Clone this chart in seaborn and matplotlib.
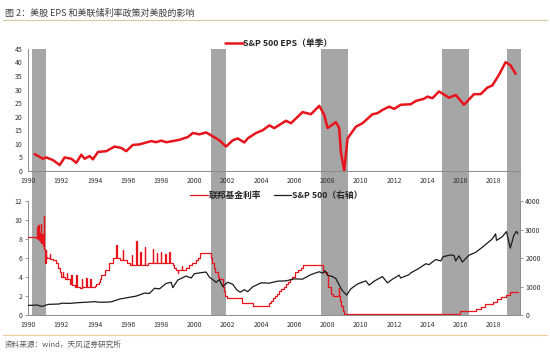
import matplotlib
matplotlib.use("Agg")
import matplotlib.pyplot as plt
from matplotlib.lines import Line2D
import pandas as pd
import seaborn as sns

TITLE = "图 2：美股 EPS 和美联储利率政策对美股的影响"
SOURCE = "资料来源：wind，天风证券研究所"
EPS_LABEL = "S&P 500 EPS（单季）"
FED_LABEL = "联邦基金利率"
SPX_LABEL = "S&P 500（右轴）"

YEAR_TICKS = list(range(1990, 2019, 2))

# grey shaded periods (decimal years)
SHADE_START = [1990.25, 2001.0, 2007.6, 2014.85, 2018.8]
SHADE_END = [1991.1, 2001.9, 2009.2, 2016.5, 2019.6]

# S&P 500 quarterly EPS
EPS_YEAR = [1990.4, 1990.9, 1991.1, 1991.5, 1991.9, 1992.2, 1992.6, 1992.9, 1993.2, 1993.4,
            1993.7, 1993.9, 1994.2, 1994.7, 1995.2, 1995.6, 1995.9, 1996.3, 1996.7, 1997.1,
            1997.4, 1997.7, 1998.0, 1998.3, 1998.7, 1999.1, 1999.6, 1999.9, 2000.3, 2000.7,
            2000.9, 2001.5, 2001.9, 2002.3, 2002.6, 2003.0, 2003.2, 2003.7, 2004.1, 2004.5,
            2004.8, 2005.5, 2005.8, 2006.5, 2007.0, 2007.5, 2007.8, 2008.0, 2008.5, 2008.7,
            2008.8, 2009.0, 2009.2, 2009.7, 2010.1, 2010.7, 2011.0, 2011.3, 2011.7, 2012.0,
            2012.4, 2013.0, 2013.3, 2013.8, 2014.0, 2014.3, 2014.7, 2015.3, 2015.7, 2016.2,
            2016.8, 2017.2, 2017.6, 2017.9, 2018.3, 2018.7, 2019.0, 2019.3]
EPS_VALUE = [6.2, 4.5, 5.0, 4.0, 2.2, 5.0, 4.5, 3.0, 6.0, 4.5,
             5.5, 4.3, 7.0, 7.3, 9.0, 8.5, 7.3, 9.6, 9.8, 10.5,
             11.0, 10.6, 11.2, 10.6, 11.0, 11.5, 12.5, 14.0, 13.5, 14.2,
             13.5, 11.3, 9.0, 11.3, 12.0, 10.5, 12.0, 14.0, 15.0, 16.8,
             15.8, 18.5, 17.6, 21.7, 20.9, 24.0, 20.7, 15.8, 18.0, 15.8,
             7.1, 0.0, 12.0, 16.3, 17.6, 20.9, 21.3, 22.5, 23.7, 22.9,
             24.4, 24.6, 25.8, 26.6, 27.4, 26.8, 29.3, 27.0, 28.0, 24.4,
             28.3, 28.3, 30.7, 31.5, 35.4, 40.1, 38.9, 35.8]

# federal funds rate change points (drawn as steps)
FED_YEAR = [1990.0, 1990.45, 1990.55, 1990.57, 1990.62, 1990.64, 1990.7, 1990.72, 1990.78, 1990.8,
            1990.86, 1990.88, 1990.93, 1990.95, 1991.0, 1991.02, 1991.05, 1991.08, 1991.15, 1991.3,
            1991.32, 1991.5, 1991.7, 1991.8, 1991.9, 1992.0, 1992.1, 1992.12, 1992.25, 1992.35,
            1992.37, 1992.5, 1992.6, 1992.62, 1992.8, 1992.9, 1992.92, 1993.1, 1993.25, 1993.27,
            1993.5, 1993.52, 1993.75, 1993.77, 1994.0, 1994.1, 1994.25, 1994.3, 1994.4, 1994.6,
            1994.85, 1995.1, 1995.3, 1995.32, 1995.5, 1995.7, 1995.72, 1995.95, 1996.1, 1996.25,
            1996.27, 1996.5, 1996.52, 1996.75, 1996.77, 1997.0, 1997.02, 1997.2, 1997.5, 1997.52,
            1997.75, 1997.77, 1998.0, 1998.02, 1998.25, 1998.27, 1998.5, 1998.52, 1998.72, 1998.8,
            1998.9, 1999.0, 1999.02, 1999.25, 1999.27, 1999.5, 1999.65, 1999.85, 2000.1, 2000.2,
            2000.35, 2000.99, 2001.05, 2001.15, 2001.25, 2001.4, 2001.5, 2001.7, 2001.78, 2001.85,
            2001.95, 2002.85, 2003.5, 2004.5, 2004.62, 2004.72, 2004.87, 2004.95, 2005.1, 2005.23,
            2005.37, 2005.5, 2005.62, 2005.73, 2005.87, 2006.05, 2006.23, 2006.4, 2006.5, 2007.7,
            2007.8, 2007.95, 2008.05, 2008.2, 2008.33, 2008.66, 2008.68, 2008.72, 2008.8, 2008.9,
            2008.98, 2015.95, 2016.95, 2017.2, 2017.45, 2017.95, 2018.2, 2018.45, 2018.72, 2018.97,
            2019.45]
FED_RATE = [8.25, 8.1, 9.3, 8.0, 9.5, 7.9, 8.6, 7.8, 9.6, 7.6,
            8.5, 7.3, 10.4, 7.0, 6.5, 5.5, 6.8, 6.1, 6.0, 6.4,
            5.9, 5.75, 5.5, 5.0, 4.5, 4.0, 4.5, 4.0, 3.75, 4.4,
            3.75, 3.3, 4.2, 3.2, 3.0, 4.2, 3.0, 2.9, 3.8, 3.0,
            3.9, 3.0, 3.8, 3.0, 3.1, 3.25, 3.5, 3.75, 4.25, 4.75,
            5.5, 6.0, 7.4, 6.0, 5.75, 6.8, 5.75, 5.5, 5.3, 6.3,
            5.3, 7.8, 5.3, 6.6, 5.3, 7.2, 5.3, 5.5, 7.0, 5.5,
            6.5, 5.5, 6.6, 5.5, 6.4, 5.5, 6.6, 5.5, 5.25, 5.0,
            4.75, 4.4, 4.75, 5.2, 4.75, 5.0, 5.25, 5.5, 5.75, 6.0,
            6.5, 6.0, 5.5, 5.0, 4.5, 4.0, 3.75, 3.0, 2.5, 2.0,
            1.75, 1.25, 1.0, 1.25, 1.5, 1.75, 2.0, 2.25, 2.5, 2.75,
            3.0, 3.25, 3.5, 3.75, 4.0, 4.5, 4.75, 5.0, 5.25, 4.75,
            4.5, 4.25, 3.0, 2.25, 2.0, 2.8, 2.0, 1.5, 1.0, 0.4,
            0.15, 0.38, 0.65, 0.9, 1.15, 1.4, 1.65, 1.9, 2.15, 2.4,
            2.4]

# S&P 500 index level (right axis)
SPX_YEAR = [1990.0, 1990.3, 1990.55, 1990.8, 1991.0, 1991.2, 1991.5, 1991.9, 1992.0, 1992.5,
            1993.0, 1993.5, 1994.0, 1994.3, 1994.8, 1995.0, 1995.5, 1996.0, 1996.5, 1997.0,
            1997.3, 1997.6, 1997.9, 1998.3, 1998.6, 1998.7, 1999.0, 1999.5, 1999.8, 2000.0,
            2000.3, 2000.7, 2000.9, 2001.2, 2001.3, 2001.5, 2001.7, 2002.0, 2002.3, 2002.55,
            2002.75, 2003.0, 2003.2, 2003.5, 2004.0, 2004.5, 2005.0, 2005.5, 2006.0, 2006.5,
            2007.0, 2007.5, 2007.7, 2007.85, 2008.0, 2008.3, 2008.5, 2008.75, 2008.9, 2009.15,
            2009.4, 2009.8, 2010.3, 2010.5, 2010.8, 2011.3, 2011.6, 2011.9, 2012.3, 2012.4,
            2012.9, 2013.0, 2013.5, 2013.9, 2014.1, 2014.5, 2014.8, 2014.95, 2015.4, 2015.6,
            2015.7, 2015.9, 2016.1, 2016.5, 2016.9, 2017.3, 2017.9, 2018.1, 2018.15, 2018.5,
            2018.75, 2018.98, 2019.2, 2019.35, 2019.45]
SPX_VALUE = [340, 345, 355, 305, 330, 375, 380, 390, 415, 410,
             435, 450, 470, 450, 455, 465, 560, 615, 665, 770,
             760, 940, 920, 1110, 1150, 960, 1230, 1370, 1300, 1450,
             1480, 1510, 1330, 1200, 1150, 1240, 1000, 1150, 1080, 880,
             800, 890, 820, 990, 1130, 1120, 1190, 1200, 1270, 1260,
             1420, 1520, 1470, 1550, 1400, 1350, 1280, 1000, 850, 700,
             920, 1090, 1200, 1050, 1190, 1350, 1130, 1260, 1400, 1300,
             1420, 1480, 1640, 1800, 1770, 1950, 1900, 2050, 2110, 2090,
             1900, 2080, 1860, 2100, 2200, 2380, 2670, 2850, 2620, 2750,
             2930, 2350, 2800, 2940, 2850]

RED = "#e8141c"
GREY_BAND = "#a6a6a6"
AXIS_GREY = "#8c8c8c"
TEXT = "#333333"

sns.set_style("white")
plt.rcParams["font.family"] = ["Noto Sans CJK SC", "DejaVu Sans"]
plt.rcParams["axes.unicode_minus"] = False

eps = pd.DataFrame({"year": EPS_YEAR, "eps": EPS_VALUE})
fed = pd.DataFrame({"year": FED_YEAR, "rate": FED_RATE})
spx = pd.DataFrame({"year": SPX_YEAR, "spx": SPX_VALUE})

fig = plt.figure(figsize=(5.5, 3.54), dpi=100)
ax1 = fig.add_axes([0.051, 0.517, 0.894, 0.345])
ax2 = fig.add_axes([0.051, 0.110, 0.894, 0.322])
ax2r = ax2.twinx()

XMIN, XMAX = 1990.0, 2019.55


def style_axis(ax, sides):
    for s in ["left", "right", "top", "bottom"]:
        ax.spines[s].set_visible(s in sides)
        ax.spines[s].set_color(AXIS_GREY)
        ax.spines[s].set_linewidth(0.7)
    ax.tick_params(axis="both", direction="out", length=2.5, width=0.6,
                   colors=AXIS_GREY, labelcolor=TEXT, labelsize=5, pad=1.5)
    ax.set_xlabel("")
    ax.set_ylabel("")


# --- top panel: EPS ---
for s, e in zip(SHADE_START, SHADE_END):
    ax1.axvspan(s, e, ymin=-0.16, ymax=1, color=GREY_BAND, lw=0, zorder=0, clip_on=False)
sns.lineplot(data=eps, x="year", y="eps", ax=ax1, color=RED, lw=1.8,
             label=EPS_LABEL, estimator=None, zorder=3)
ax1.set_xlim(XMIN, XMAX)
ax1.set_ylim(0, 45)
ax1.set_yticks(range(0, 46, 5))
ax1.set_xticks(YEAR_TICKS)
style_axis(ax1, ["left", "bottom"])
ax1.legend(loc="center", bbox_to_anchor=(0.51, 1.04), frameon=False, handlelength=2.0,
           handletextpad=0.1, borderaxespad=0,
           prop={"size": 6.3, "weight": "bold"})

# --- bottom panel: fed funds rate + S&P 500 ---
for s, e in zip(SHADE_START, SHADE_END):
    ax2.axvspan(s, e, ymin=0, ymax=1.13, color=GREY_BAND, lw=0, zorder=0, clip_on=False)
sns.lineplot(data=fed, x="year", y="rate", ax=ax2, color=RED, lw=0.9,
             drawstyle="steps-post", label=FED_LABEL, estimator=None, zorder=3)
sns.lineplot(data=spx, x="year", y="spx", ax=ax2r, color="#1a1a1a", lw=0.9,
             label=SPX_LABEL, estimator=None, zorder=3)
ax2.set_xlim(XMIN, XMAX)
ax2.set_ylim(0, 12)
ax2.set_yticks(range(0, 13, 2))
ax2.set_xticks(YEAR_TICKS)
ax2r.set_ylim(0, 4000)
ax2r.set_yticks(range(0, 4001, 1000))
style_axis(ax2, ["left", "bottom"])
style_axis(ax2r, ["right"])
ax2.get_legend().remove()
h1, l1 = ax2.get_legend_handles_labels()
h2, l2 = ax2r.get_legend_handles_labels()
ax2r.legend(h1 + h2, l1 + l2, loc="center", bbox_to_anchor=(0.505, 1.05), ncol=2,
            frameon=False, handlelength=2.0, handletextpad=0.1, columnspacing=1.4,
            borderaxespad=0, prop={"size": 6.3, "weight": "bold"})

# --- title, source and rules ---
fig.text(0.009, 0.963, TITLE, fontsize=6.5, color="#404040", va="center", ha="left")
fig.add_artist(Line2D([0.005, 0.995], [0.943, 0.943], color="#d9c9a3", lw=0.8))
fig.add_artist(Line2D([0.005, 0.995], [0.054, 0.054], color="#f0c9a0", lw=0.8))
fig.text(0.009, 0.025, SOURCE, fontsize=5.5, color="#595959", va="center", ha="left")

fig.savefig("out.png", dpi=100)
